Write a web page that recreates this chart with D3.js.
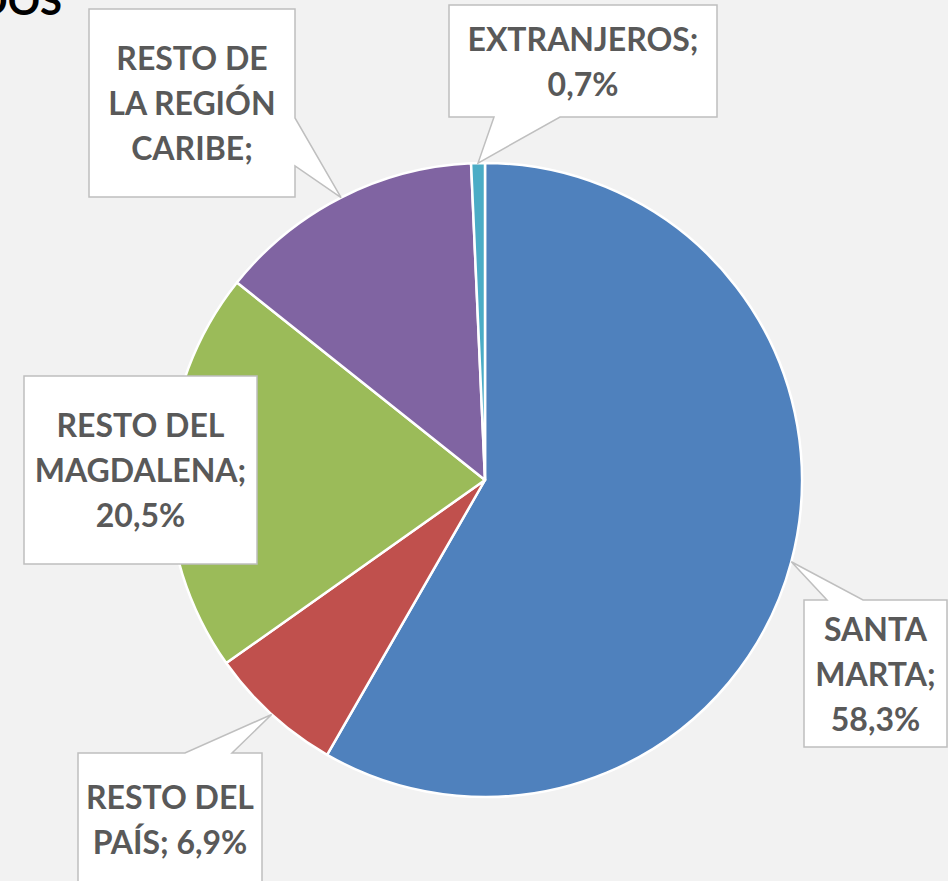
<!DOCTYPE html>
<html>
<head>
<meta charset="utf-8">
<script src="https://cdn.jsdelivr.net/npm/d3@7"></script>
<style>
  html, body { margin: 0; padding: 0; background: #F2F2F2; }
  svg { display: block; }
</style>
</head>
<body>
<svg id="chart" width="948" height="881"></svg>
<script>
// ---- data ----
const categories = ["SANTA MARTA", "RESTO DEL PAÍS", "RESTO DEL MAGDALENA", "RESTO DE LA REGIÓN CARIBE", "EXTRANJEROS"];
const values = [58.3, 6.9, 20.5, 13.6, 0.7];
const labelLines = [
  ["SANTA", "MARTA;", "58,3%"],
  ["RESTO DEL", "PAÍS; 6,9%"],
  ["RESTO DEL", "MAGDALENA;", "20,5%"],
  ["RESTO DE", "LA REGIÓN", "CARIBE;"],
  ["EXTRANJEROS;", "0,7%"]
];
const colors = ["#4F81BD", "#C0504D", "#9BBB59", "#8064A2", "#4BACC6"];
const titleText = "DOS";

// ---- layout (callout boxes) ----
const boxes = [
  { x0: 804, y0: 600, x1: 947, y1: 747, side: "top", p0: 827, p1: 863 },
  { x0: 78, y0: 753, x1: 262, y1: 886, side: "top", p0: 185, p1: 232 },
  { x0: 24, y0: 376, x1: 257, y1: 564, side: "none" },
  { x0: 89, y0: 9, x1: 295, y1: 197, side: "right", p0: 118, p1: 166 },
  { x0: 449, y0: 5, x1: 717, y1: 117, side: "bottom", p0: 494, p1: 560 }
];

const svg = d3.select("#chart");
const cx = 485, cy = 480, r = 317;
const lineH = 45;

svg.append("text")
  .attr("x", 62).attr("y", 15)
  .attr("text-anchor", "end")
  .style("font-family", "Lato, 'Open Sans', sans-serif")
  .style("font-weight", "bold")
  .style("font-size", "40px")
  .attr("fill", "#000")
  .text(titleText);

const data = categories.map((c, i) => ({ name: c, value: values[i], lines: labelLines[i], color: colors[i], box: boxes[i] }));

const pie = d3.pie().sort(null).value(d => d.value);
const arcs = pie(data);
const arc = d3.arc().innerRadius(0).outerRadius(r);
const edgeArc = d3.arc().innerRadius(r).outerRadius(r);

const g = svg.append("g").attr("transform", `translate(${cx},${cy})`);
g.selectAll("path")
  .data(arcs)
  .join("path")
  .attr("d", arc)
  .attr("fill", d => d.data.color)
  .attr("stroke", "#fff")
  .attr("stroke-width", 2.5)
  .attr("stroke-linejoin", "round");

// callouts
function calloutPath(b, tip) {
  const [tx, ty] = tip;
  if (b.side === "top") {
    return `M${b.x0},${b.y0}L${b.p0},${b.y0}L${tx},${ty}L${b.p1},${b.y0}L${b.x1},${b.y0}L${b.x1},${b.y1}L${b.x0},${b.y1}Z`;
  } else if (b.side === "bottom") {
    return `M${b.x0},${b.y0}L${b.x1},${b.y0}L${b.x1},${b.y1}L${b.p1},${b.y1}L${tx},${ty}L${b.p0},${b.y1}L${b.x0},${b.y1}Z`;
  } else if (b.side === "right") {
    return `M${b.x0},${b.y0}L${b.x1},${b.y0}L${b.x1},${b.p0}L${tx},${ty}L${b.x1},${b.p1}L${b.x1},${b.y1}L${b.x0},${b.y1}Z`;
  }
  return `M${b.x0},${b.y0}L${b.x1},${b.y0}L${b.x1},${b.y1}L${b.x0},${b.y1}Z`;
}

const labels = svg.append("g");
arcs.forEach(a => {
  const b = a.data.box;
  const c = edgeArc.centroid(a);
  const tip = [cx + c[0], cy + c[1]];
  labels.append("path")
    .attr("d", calloutPath(b, tip))
    .attr("fill", "#fff")
    .attr("stroke", "#BFBFBF")
    .attr("stroke-width", 1.5);
  const mx = (b.x0 + b.x1) / 2;
  const my = (b.y0 + b.y1) / 2;
  const n = a.data.lines.length;
  const t = labels.append("text")
    .attr("text-anchor", "middle")
    .style("font-family", "Lato, 'Open Sans', sans-serif")
    .style("font-weight", "bold")
    .style("font-size", "32px")
    .attr("fill", "#595959");
  a.data.lines.forEach((ln, i) => {
    t.append("tspan")
      .attr("x", mx)
      .attr("y", my + (i - (n - 1) / 2) * lineH + 12)
      .text(ln);
  });
});
</script>
</body>
</html>
